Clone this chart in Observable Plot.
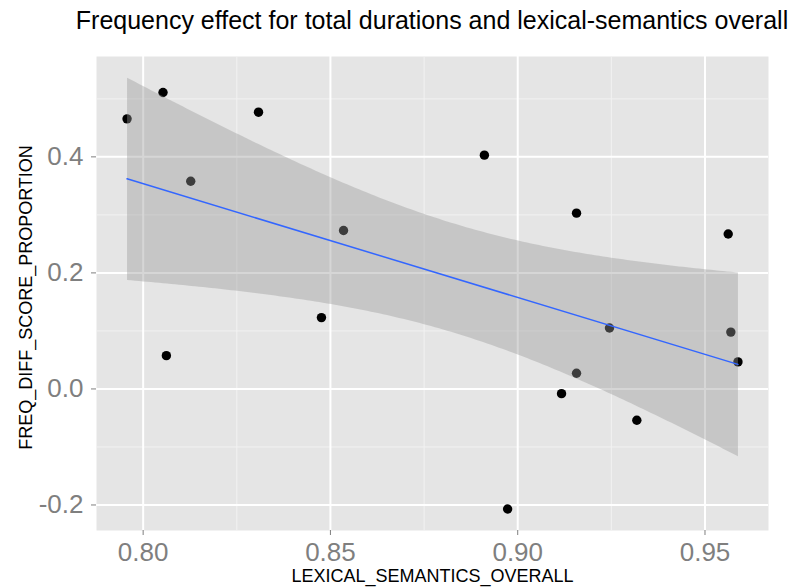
<!DOCTYPE html>
<html>
<head>
<meta charset="utf-8">
<script src="https://cdn.jsdelivr.net/npm/d3@7"></script>
<script src="https://cdn.jsdelivr.net/npm/@observablehq/plot@0.6"></script>
<style>
  body { margin: 0; background: #fff; font-family: "Liberation Sans", Arial, Helvetica, sans-serif; }
  #title { position: relative; height: 45px; }
  #title span {
    position: absolute; left: 432px; top: 8px; transform: translateX(-50%);
    font-size: 25px; line-height: 25px; white-space: nowrap; color: #000;
  }
  #chart svg { overflow: visible; display: block; }
</style>
</head>
<body>
<div id="title"><span>Frequency effect for total durations and lexical-semantics overall</span></div>
<div id="chart"></div>
<script>
// One value per participant
const lexicalSemantics = [0.7957, 0.8053, 0.8308, 0.8127, 0.8535, 0.8062, 0.8476, 0.8911, 0.9157,
                          0.9562, 0.9245, 0.9569, 0.9588, 0.9157, 0.9117, 0.9318, 0.8973];
const freqDiffScore = [0.4655, 0.511, 0.477, 0.358, 0.273, 0.0574, 0.123, 0.403, 0.303,
                       0.267, 0.105, 0.098, 0.0466, 0.027, -0.0081, -0.054, -0.207];

const xTicks = [0.80, 0.85, 0.90, 0.95];
const xMinorTicks = [0.825, 0.875, 0.925];
const yTicks = [-0.2, 0.0, 0.2, 0.4];
const yMinorTicks = [-0.1, 0.1, 0.3, 0.5];

const xLabel = "LEXICAL_SEMANTICS_OVERALL";
const yLabel = "FREQ_DIFF_SCORE_PROPORTION";

const rows = lexicalSemantics.map((x, i) => ({x, y: freqDiffScore[i]}));

// ggplot-style 5% expansion of the x range
const [x0, x1] = d3.extent(lexicalSemantics);
const pad = (x1 - x0) * 0.05;

const plot = Plot.plot({
  width: 795,
  height: 543,
  marginLeft: 96,
  marginRight: 27,
  marginTop: 11,
  marginBottom: 58,
  style: {fontFamily: '"Liberation Sans", Arial, Helvetica, sans-serif', background: "transparent"},
  x: {domain: [x0 - pad, x1 + pad]},
  y: {domain: [-0.244, 0.573]},
  marks: [
    Plot.frame({fill: "#E5E5E5", stroke: null}),
    Plot.gridX(xMinorTicks, {stroke: "#F2F2F2", strokeOpacity: 1, strokeWidth: 1}),
    Plot.gridY(yMinorTicks, {stroke: "#F2F2F2", strokeOpacity: 1, strokeWidth: 1}),
    Plot.gridX(xTicks, {stroke: "#FFFFFF", strokeOpacity: 1, strokeWidth: 2}),
    Plot.gridY(yTicks, {stroke: "#FFFFFF", strokeOpacity: 1, strokeWidth: 2}),
    Plot.dot(rows, {x: "x", y: "y", r: 4.7, fill: "#000", stroke: null}),
    Plot.linearRegressionY(rows, {
      x: "x", y: "y", ci: 0.95,
      stroke: "#3366FF", strokeWidth: 1.5,
      fill: "#999999", fillOpacity: 0.4
    }),
    Plot.axisX(xTicks, {
      tickFormat: d => d.toFixed(2), fontSize: 26, color: "#7F7F7F",
      tickSize: 5, tickPadding: 7, label: null
    }),
    Plot.axisY(yTicks, {
      tickFormat: d => d.toFixed(1), fontSize: 26, color: "#7F7F7F",
      tickSize: 5, tickPadding: 8, label: null
    }),
    Plot.text([xLabel], {
      frameAnchor: "bottom", dy: 46, fontSize: 18, fill: "#000", lineAnchor: "middle"
    }),
    Plot.text([yLabel], {
      frameAnchor: "left", textAnchor: "middle", dx: -70, dy: 4, rotate: -90,
      fontSize: 18, fill: "#000", lineAnchor: "middle"
    })
  ]
});

document.getElementById("chart").appendChild(plot);
</script>
</body>
</html>
